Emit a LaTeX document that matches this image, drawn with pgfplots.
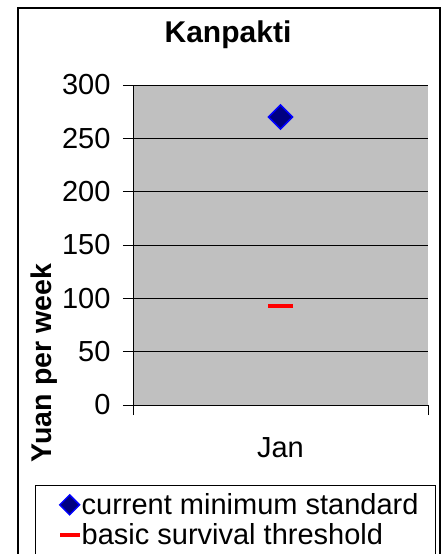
\documentclass[border=0pt]{standalone}
\usepackage{fontspec}
\setmainfont{Liberation Sans}
\usepackage{pgfplots}
\pgfplotsset{compat=1.18}
\definecolor{plotgray}{RGB}{192,192,192}
\definecolor{navy}{RGB}{0,0,128}
\begin{document}
\begin{tikzpicture}[x=1pt,y=1pt]
\useasboundingbox (0,0) rectangle (447,554);
\clip (0,0) rectangle (447,554);
\draw[line width=1.2pt] (18,-20) rectangle (440,546);
\node[font=\fontsize{30}{34}\selectfont\bfseries] at (228,519) {Kanpakti};
\node[font=\fontsize{28.5}{32}\selectfont\bfseries, rotate=90] at (44,191) {Yuan per week};
\begin{axis}[
  at={(133pt,149pt)}, anchor=south west,
  scale only axis, width=295pt, height=320pt,
  xmin=0, xmax=2, ymin=0, ymax=300,
  axis background/.style={fill=plotgray},
  axis x line*=bottom, axis y line*=left,
  axis line style={black, line width=0.8pt, -},
  ytick={0,50,...,300},
  xtick={0,2}, xticklabels={},
  extra x ticks={1}, extra x tick labels={Jan},
  extra x tick style={major tick length=0pt, grid=none},
  xticklabel style={yshift=-29pt},
  yticklabel style={xshift=-9pt},
  ymajorgrids, major grid style={black, line width=0.8pt},
  tick align=outside, major tick length=10pt,
  tick style={black, line width=0.8pt},
  tick label style={font=\fontsize{29}{33}\selectfont},
  /pgf/number format/assume math mode=true,
  clip=false,
  legend style={at={(axis description cs:-0.332,-0.25)}, anchor=north west,
    draw=black, line width=1.2pt, fill=white, inner xsep=24pt, inner ysep=6pt,
    font=\fontsize{29}{33}\selectfont, row sep=3.5pt,
    /tikz/every even column/.append style={column sep=7pt}},
  legend cell align=left,
]
\addplot[only marks, mark=square*, mark size=8.5pt, mark options={rotate=45, fill=navy, draw=blue, line width=1.5pt},
  legend image post style={mark size=7pt}] coordinates {(1,270)};
\addlegendentry{\makebox[328pt][l]{current minimum standard}}
\addplot[only marks, mark=-, mark size=12.5pt, mark options={draw=red, line width=4pt},
  legend image post style={mark size=10pt}] coordinates {(1,93)};
\addlegendentry{\makebox[328pt][l]{basic survival threshold}}
\end{axis}
\end{tikzpicture}
\end{document}
